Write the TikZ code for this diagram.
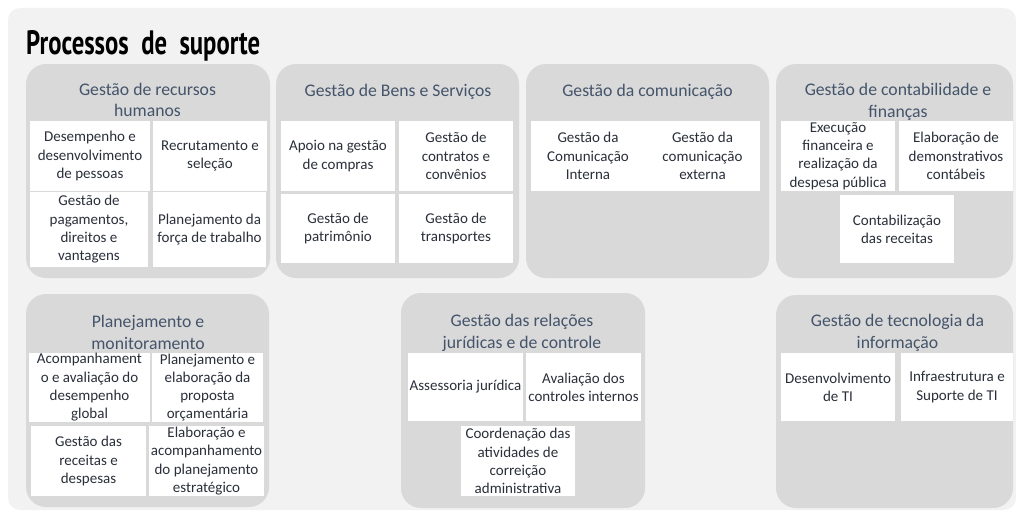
\documentclass[tikz,border=0pt]{standalone}
\usepackage{fontspec}
\usepackage{graphicx}
\setmainfont{Carlito}
\newfontfamily\headfont{PT Sans}
\definecolor{panelgray}{HTML}{F2F2F2}
\definecolor{groupgray}{HTML}{D9D9D9}
\definecolor{titleblue}{HTML}{44546A}
\definecolor{boxtext}{HTML}{2A2F3A}
\tikzset{
  group/.style={fill=groupgray, draw=none, rounded corners=20pt, inner sep=0pt},
  gtitle/.style={text=titleblue, align=center, inner sep=0pt, font=\fontsize{17.7}{21.7}\selectfont},
  cell/.style={fill=white, draw=none, inner sep=0pt, align=center, text=boxtext, font=\fontsize{15}{18.3}\selectfont},
}
\begin{document}
\begin{tikzpicture}[x=1pt,y=-1pt]
\fill[white] (0,0) rectangle (1016,511);
\useasboundingbox (0,0) rectangle (1016,511);
\node[fill=panelgray, rounded corners=12pt, minimum width=1008pt, minimum height=502pt, inner sep=0pt] (panel) at (512,259) {};
\node[anchor=base west, inner sep=0pt] (maintitle) at (26,55) {\resizebox{234pt}{24pt}{\headfont\bfseries Processos\ \ de\ \ suporte}};

% ---------- groups, top row ----------
\node[group, minimum width=244pt, minimum height=214pt] (g1) at (148,171) {};
\node[group, minimum width=243pt, minimum height=214pt] (g2) at (397.5,171) {};
\node[group, minimum width=243pt, minimum height=214pt] (g3) at (647.5,171) {};
\node[group, minimum width=237pt, minimum height=214pt] (g4) at (894.5,171) {};
% ---------- groups, bottom row ----------
\node[group, minimum width=243pt, minimum height=213pt] (g5) at (147.5,400.5) {};
\node[group, minimum width=244pt, minimum height=215pt] (g6) at (523,400.5) {};
\node[group, minimum width=237pt, minimum height=213pt] (g7) at (894.5,401.5) {};

% ---------- group titles ----------
\node[gtitle] (t1) at (147.5,100) {Gestão de recursos\\humanos};
\node[gtitle] (t2) at (398,92) {Gestão de Bens e Serviços};
\node[gtitle] (t3) at (647.5,92) {Gestão da comunicação};
\node[gtitle] (t4) at (898,102) {Gestão de contabilidade e\\finanças};
\node[gtitle] (t5) at (148,332.5) {Planejamento e\\monitoramento};
\node[gtitle] (t6) at (522,333) {Gestão das relações\\jurídicas e de controle};
\node[gtitle] (t7) at (897.5,333) {Gestão de tecnologia da\\informação};

% ---------- cells: recursos humanos ----------
\node[cell, minimum width=120pt, minimum height=70pt] (c11) at (90,156) {Desempenho e\\desenvolvimento\\de pessoas};
\node[cell, minimum width=114pt, minimum height=70pt] (c12) at (210,156) {Recrutamento e\\seleção};
\node[cell, minimum width=118pt, minimum height=75pt] (c13) at (89,229.5) {Gestão de\\pagamentos,\\direitos e\\vantagens};
\node[cell, minimum width=113pt, minimum height=75pt] (c14) at (209.5,229.5) {Planejamento da\\força de trabalho};

% ---------- cells: bens e servicos ----------
\node[cell, minimum width=114pt, minimum height=70pt] (c21) at (338,156) {Apoio na gestão\\de compras};
\node[cell, minimum width=114pt, minimum height=70pt] (c22) at (456,156) {Gestão de\\contratos e\\convênios};
\node[cell, minimum width=114pt, minimum height=69pt] (c23) at (338,228.5) {Gestão de\\patrimônio};
\node[cell, minimum width=114pt, minimum height=69pt] (c24) at (456,228.5) {Gestão de\\transportes};

% ---------- cells: comunicacao ----------
\node[cell, minimum width=114pt, minimum height=70pt] (c31) at (588,156) {Gestão da\\Comunicação\\Interna};
\node[cell, minimum width=115pt, minimum height=70pt] (c32) at (702.5,156) {Gestão da\\comunicação\\externa};

% ---------- cells: contabilidade ----------
\node[cell, minimum width=114pt, minimum height=70pt] (c41) at (838,156) {Execução\\financeira e\\realização da\\despesa pública};
\node[cell, minimum width=114pt, minimum height=70pt] (c42) at (956,156) {Elaboração de\\demonstrativos\\contábeis};
\node[cell, minimum width=114pt, minimum height=68pt] (c43) at (897,229) {Contabilização\\das receitas};

% ---------- cells: planejamento ----------
\node[cell, minimum width=121pt, minimum height=69pt] (c51) at (89.5,387.5) {Acompanhament\\o e avaliação do\\desempenho\\global};
\node[cell, minimum width=111pt, minimum height=69pt] (c52) at (207.5,387.5) {Planejamento e\\elaboração da\\proposta\\orçamentária};
\node[cell, minimum width=115pt, minimum height=70pt] (c53) at (88.5,461) {Gestão das\\receitas e\\despesas};
\node[cell, minimum width=115pt, minimum height=70pt] (c54) at (206.5,461) {Elaboração e\\acompanhamento\\do planejamento\\estratégico};

% ---------- cells: juridicas ----------
\node[cell, minimum width=115pt, minimum height=68pt] (c61) at (465.5,387) {Assessoria jurídica};
\node[cell, minimum width=115pt, minimum height=68pt] (c62) at (583.5,387) {Avaliação dos\\controles internos};
\node[cell, minimum width=114pt, minimum height=70pt] (c63) at (518,461) {Coordenação das\\atividades de\\correição\\administrativa};

% ---------- cells: TI ----------
\node[cell, minimum width=114pt, minimum height=68pt] (c71) at (838,387) {Desenvolvimento\\de TI};
\node[cell, minimum width=112pt, minimum height=68pt] (c72) at (957,387) {Infraestrutura e\\Suporte de TI};
\end{tikzpicture}
\end{document}
